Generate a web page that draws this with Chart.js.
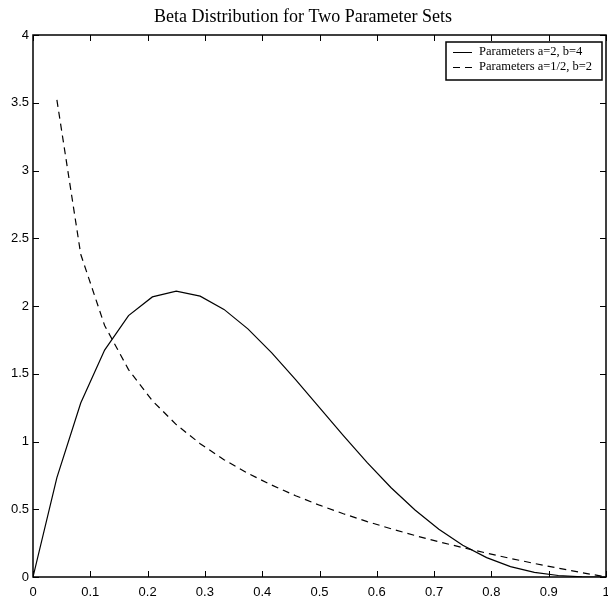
<!DOCTYPE html>
<html>
<head>
<meta charset="utf-8">
<script src="https://cdn.jsdelivr.net/npm/chart.js@4/dist/chart.umd.min.js"></script>
<style>
html,body{margin:0;padding:0;background:#fff;}
#wrap{width:608px;height:604px;position:relative;}
</style>
</head>
<body>
<div id="wrap"><canvas id="c" width="608" height="604"></canvas></div>
<script>
const titleText = 'Beta Distribution for Two Parameter Sets';
const seriesLabels = ['Parameters a=2, b=4', 'Parameters a=1/2, b=2'];

// x positions of the sampled points (step 1/24)
const xValues = [0, 0.0417, 0.0833, 0.125, 0.1667, 0.2083, 0.25, 0.2917, 0.3333, 0.375,
  0.4167, 0.4583, 0.5, 0.5417, 0.5833, 0.625, 0.6667, 0.7083, 0.75, 0.7917,
  0.8333, 0.875, 0.9167, 0.9583, 1];

// a=2, b=4 (solid)
const solidValues = [0, 0.733, 1.284, 1.675, 1.929, 2.067, 2.109, 2.073, 1.975, 1.831,
  1.654, 1.457, 1.25, 1.043, 0.844, 0.659, 0.494, 0.352, 0.234, 0.143,
  0.077, 0.034, 0.011, 0.001, 0];

// a=1/2, b=2 (dashed), starts at the second x position
const dashedValues = [null, 3.521, 2.382, 1.856, 1.531, 1.301, 1.125, 0.984, 0.866, 0.765,
  0.678, 0.600, 0.530, 0.467, 0.409, 0.356, 0.306, 0.260, 0.217, 0.176,
  0.137, 0.100, 0.065, 0.032, 0];

const xTickValues = [0, 0.1, 0.2, 0.3, 0.4, 0.5, 0.6, 0.7, 0.8, 0.9, 1];
const xTickLabels = ['0', '0.1', '0.2', '0.3', '0.4', '0.5', '0.6', '0.7', '0.8', '0.9', '1'];
const yTickValues = [0, 0.5, 1, 1.5, 2, 2.5, 3, 3.5, 4];
const yTickLabels = ['0', '0.5', '1', '1.5', '2', '2.5', '3', '3.5', '4'];

function toPoints(xs, ys) {
  const out = [];
  for (let i = 0; i < xs.length; i++) {
    if (ys[i] !== null) out.push({x: xs[i], y: ys[i]});
  }
  return out;
}

const tickFont = {family: 'Liberation Sans', size: 13};

const boxPlugin = {
  id: 'boxPlugin',
  afterDraw(chart) {
    const ctx = chart.ctx;
    const a = chart.chartArea;
    const xs = chart.scales.x, ys = chart.scales.y;
    const L = 6;
    ctx.save();
    ctx.strokeStyle = '#000';
    ctx.lineWidth = 1;
    ctx.setLineDash([]);
    ctx.beginPath();
    xs.ticks.forEach(t => {
      const px = Math.round(xs.getPixelForValue(t.value)) + 0.5;
      ctx.moveTo(px, a.bottom); ctx.lineTo(px, a.bottom - L);
      ctx.moveTo(px, a.top); ctx.lineTo(px, a.top + L);
    });
    ys.ticks.forEach(t => {
      const py = Math.round(ys.getPixelForValue(t.value)) + 0.5;
      ctx.moveTo(a.left, py); ctx.lineTo(a.left + L, py);
      ctx.moveTo(a.right, py); ctx.lineTo(a.right - L, py);
    });
    ctx.stroke();
    ctx.lineWidth = 1.5;
    ctx.strokeRect(a.left, a.top, a.right - a.left, a.bottom - a.top);

    // legend
    const bx = 446, by = 42, bw = 156, bh = 38;
    ctx.fillStyle = '#fff';
    ctx.fillRect(bx, by, bw, bh);
    ctx.lineWidth = 1.5;
    ctx.strokeRect(bx, by, bw, bh);
    ctx.font = '12.5px "Liberation Serif"';
    ctx.textBaseline = 'middle';
    ctx.fillStyle = '#000';
    chart.data.datasets.forEach((ds, i) => {
      const ry = by + 10 + i * 15;
      ctx.lineWidth = 1;
      ctx.setLineDash(ds.borderDash || []);
      ctx.beginPath();
      ctx.moveTo(453, ry + 0.5);
      ctx.lineTo(472, ry + 0.5);
      ctx.stroke();
      ctx.setLineDash([]);
      ctx.fillText(ds.label, 479, ry);
    });
    ctx.restore();
  }
};

new Chart(document.getElementById('c'), {
  type: 'line',
  data: {
    datasets: [
      {
        label: seriesLabels[0],
        data: toPoints(xValues, solidValues),
        borderColor: '#000',
        borderWidth: 1.2,
        pointRadius: 0,
        tension: 0,
        fill: false
      },
      {
        label: seriesLabels[1],
        data: toPoints(xValues, dashedValues),
        borderColor: '#000',
        borderWidth: 1.2,
        borderDash: [7, 5],
        pointRadius: 0,
        tension: 0,
        fill: false
      }
    ]
  },
  options: {
    responsive: false,
    animation: false,
    devicePixelRatio: 1,
    layout: {padding: {left: 0, right: 2, top: 0, bottom: 0}},
    plugins: {
      legend: {display: false},
      tooltip: {enabled: false},
      title: {
        display: true,
        text: titleText,
        color: '#000',
        font: {family: 'Liberation Serif', size: 18, weight: 'normal', lineHeight: 1.2},
        padding: {top: 6.5, bottom: 6.9}
      }
    },
    scales: {
      x: {
        type: 'linear',
        min: 0,
        max: 1,
        grid: {display: false, drawTicks: false, tickLength: 0},
        border: {display: false},
        afterBuildTicks: s => { s.ticks = xTickValues.map(v => ({value: v})); },
        ticks: {
          color: '#000',
          font: tickFont,
          padding: 8,
          maxRotation: 0,
          autoSkip: false,
          callback: (v) => { const i = xTickValues.indexOf(v); return i >= 0 ? xTickLabels[i] : ''; }
        },
        afterFit: s => { s.height = 27; s.paddingLeft = 0; s.paddingRight = 0; }
      },
      y: {
        type: 'linear',
        min: 0,
        max: 4,
        grid: {display: false, drawTicks: false, tickLength: 0},
        border: {display: false},
        afterBuildTicks: s => { s.ticks = yTickValues.map(v => ({value: v})); },
        ticks: {
          color: '#000',
          font: tickFont,
          padding: 4,
          autoSkip: false,
          callback: (v) => { const i = yTickValues.indexOf(v); return i >= 0 ? yTickLabels[i] : ''; }
        },
        afterFit: s => { s.width = 33; s.paddingTop = 0; s.paddingBottom = 0; }
      }
    }
  },
  plugins: [boxPlugin]
});
</script>
</body>
</html>
